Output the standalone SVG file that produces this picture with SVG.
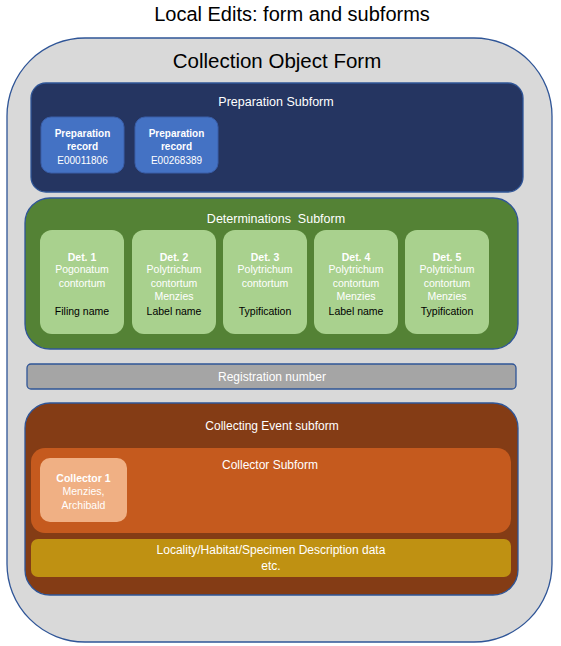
<svg xmlns="http://www.w3.org/2000/svg" width="561" height="646" viewBox="0 0 561 646">
<style>
text{font-family:"Liberation Sans",Arial,sans-serif;text-anchor:middle;dominant-baseline:central}
.w{fill:#ffffff}
.k{fill:#000000}
.b{font-weight:bold}
.s10{font-size:10px}
.s105{font-size:10.5px}
.s12{font-size:12px}
.s125{font-size:12.5px}
.frame{stroke:#2f5597;stroke-width:1.3}
.prep{fill:#4472c4;stroke:#3a5ea8;stroke-width:1}
.det{fill:#a9d18e}
</style>
<rect width="561" height="646" fill="#ffffff"/>
<text x="292" y="14" font-size="20" class="k">Local Edits: form and subforms</text>
<g id="collection-object-form">
<rect x="7" y="38" width="545" height="604" rx="78" ry="78" fill="#d9d9d9" class="frame"/>
<text x="277" y="60" font-size="20.5" class="k">Collection Object Form</text>
</g>
<g id="preparation-subform">
<rect x="31" y="83" width="492" height="109" rx="15" fill="#253561" class="frame"/>
<text x="276" y="102" class="w s125">Preparation Subform</text>
</g>
<g id="prep-record-1">
<rect x="41" y="117" width="83" height="56" rx="10" class="prep"/>
<text x="82.5" y="133" class="w b s10">Preparation</text>
<text x="82.5" y="146" class="w b s10">record</text>
<text x="82.5" y="160" class="w s10">E00011806</text>
</g>
<g id="prep-record-2">
<rect x="135" y="117" width="83" height="56" rx="10" class="prep"/>
<text x="176.5" y="133" class="w b s10">Preparation</text>
<text x="176.5" y="146" class="w b s10">record</text>
<text x="176.5" y="160" class="w s10">E00268389</text>
</g>
<g id="determinations-subform">
<rect x="25" y="198" width="493" height="151" rx="25" fill="#548235" class="frame"/>
<text x="276" y="219" class="w s125" xml:space="preserve">Determinations  Subform</text>
</g>
<g id="det-1">
<rect x="40" y="230" width="84" height="104" rx="12" class="det"/>
<text x="82" y="257" class="w b s105">Det. 1</text>
<text x="82" y="269" class="w s105">Pogonatum</text>
<text x="82" y="283" class="w s105">contortum</text>
<text x="82" y="311" class="k s105">Filing name</text>
</g>
<g id="det-2">
<rect x="132" y="230" width="84" height="104" rx="12" class="det"/>
<text x="174" y="257" class="w b s105">Det. 2</text>
<text x="174" y="269" class="w s105">Polytrichum</text>
<text x="174" y="283" class="w s105">contortum</text>
<text x="174" y="296" class="w s105">Menzies</text>
<text x="174" y="311" class="k s105">Label name</text>
</g>
<g id="det-3">
<rect x="223" y="230" width="84" height="104" rx="12" class="det"/>
<text x="265" y="257" class="w b s105">Det. 3</text>
<text x="265" y="269" class="w s105">Polytrichum</text>
<text x="265" y="283" class="w s105">contortum</text>
<text x="265" y="311" class="k s105">Typification</text>
</g>
<g id="det-4">
<rect x="314" y="230" width="84" height="104" rx="12" class="det"/>
<text x="356" y="257" class="w b s105">Det. 4</text>
<text x="356" y="269" class="w s105">Polytrichum</text>
<text x="356" y="283" class="w s105">contortum</text>
<text x="356" y="296" class="w s105">Menzies</text>
<text x="356" y="311" class="k s105">Label name</text>
</g>
<g id="det-5">
<rect x="405" y="230" width="84" height="104" rx="12" class="det"/>
<text x="447" y="257" class="w b s105">Det. 5</text>
<text x="447" y="269" class="w s105">Polytrichum</text>
<text x="447" y="283" class="w s105">contortum</text>
<text x="447" y="296" class="w s105">Menzies</text>
<text x="447" y="311" class="k s105">Typification</text>
</g>
<g id="registration-number">
<rect x="27" y="364" width="489" height="25" rx="4" fill="#a5a5a5" class="frame"/>
<text x="272" y="377" class="w s12">Registration number</text>
</g>
<g id="collecting-event-subform">
<rect x="25" y="403" width="493" height="192" rx="25" fill="#843c15" class="frame"/>
<text x="272" y="426" class="w s12">Collecting Event subform</text>
</g>
<g id="collector-subform">
<rect x="31" y="448" width="480" height="85" rx="14" fill="#c55a1e"/>
<text x="270" y="465" class="w s12">Collector Subform</text>
</g>
<g id="collector-1">
<rect x="40" y="458" width="87" height="64" rx="10" fill="#f0b084"/>
<text x="83.5" y="478" class="w b s105">Collector 1</text>
<text x="83.5" y="491" class="w s105">Menzies,</text>
<text x="83.5" y="505" class="w s105">Archibald</text>
</g>
<g id="locality">
<rect x="31" y="539" width="480" height="38" rx="7" fill="#bf9112"/>
<text x="271" y="550" class="w s12">Locality/Habitat/Specimen Description data</text>
<text x="271" y="566" class="w s12">etc.</text>
</g>
<g id="connectors"></g>
</svg>
